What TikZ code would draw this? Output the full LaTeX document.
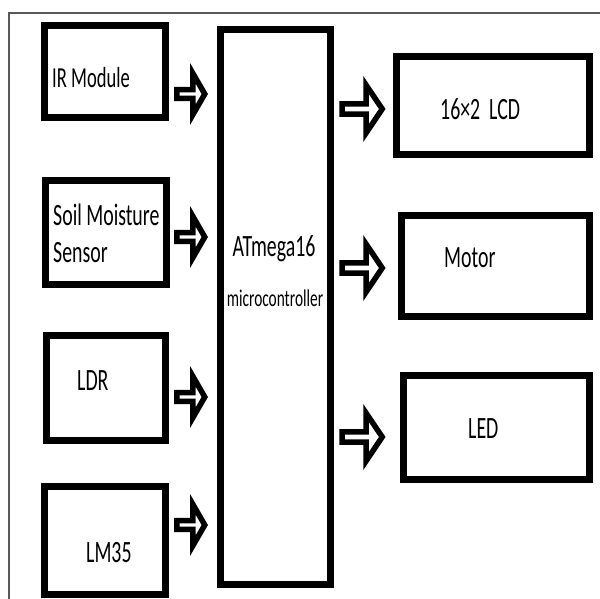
\documentclass[tikz,border=0pt]{standalone}
\usepackage{fontspec}
\setmainfont{Carlito}[FakeStretch=0.64]
\usetikzlibrary{positioning,shapes.arrows}
\tikzset{
  blk/.style={draw=black, fill=white, line width=7pt, inner sep=0pt},
  lbl/.style={inner sep=0pt, font=\fontsize{31}{37}\selectfont, align=left},
  inarw/.style={single arrow, draw=black, fill=white, line width=5.5pt,
    minimum height=28pt, minimum width=41pt, single arrow head extend=10pt,
    single arrow tip angle=120, inner sep=0pt},
  outarw/.style={single arrow, draw=black, fill=white, line width=5.5pt,
    minimum height=40pt, minimum width=48pt, single arrow head extend=10pt,
    single arrow tip angle=112, inner sep=0pt},
  frm/.style={draw=black!65, line width=1.5pt},
}
\begin{document}
\begin{tikzpicture}[x=1pt, y=-1pt]
  \useasboundingbox (0,0) rectangle (600,599);
  \draw[frm] (9,599) -- (9,13) -- (600,13);
  % inputs
  \node[blk, minimum width=121pt, minimum height=92pt] (ir) at (105,71.5) {};
  \node[blk, minimum width=121pt, minimum height=104pt] (soil) at (106,232.5) {};
  \node[blk, minimum width=119pt, minimum height=105pt] (ldr) at (106,388) {};
  \node[blk, minimum width=121pt, minimum height=108pt] (lm) at (105,540.5) {};
  % controller
  \node[blk, minimum width=110pt, minimum height=555pt] (mcu) at (275.5,307) {};
  % outputs
  \node[blk, minimum width=193pt, minimum height=98pt] (lcd) at (493,105.5) {};
  \node[blk, minimum width=188pt, minimum height=101pt] (mot) at (495.5,266) {};
  \node[blk, minimum width=186pt, minimum height=104pt] (led) at (496.5,427.5) {};
  % texts
  \node[lbl, anchor=base west, font=\fontsize{29}{35}\selectfont] (irt) at (52,88) {IR Module};
  \node[lbl, anchor=base west] (soilt) at (53,262) {Soil Moisture\\Sensor};
  \node[lbl, anchor=base west] (ldrt) at (77,390) {LDR};
  \node[lbl, anchor=base west] (lmt) at (86,562) {LM35};
  \node[lbl, anchor=base] (mcut) at (274,256) {ATmega16};
  \node[lbl, anchor=base, font=\fontsize{24}{28}\selectfont] (mcus) at (275,306) {microcontroller};
  \node[lbl, anchor=base west] (lcdt) at (440,120) {16×2\ \ LCD};
  \node[lbl, anchor=base west] (mott) at (444,267) {Motor};
  \node[lbl, anchor=base west] (ledt) at (468,438) {LED};
  % arrows
  \node[inarw] (a1) at (189.5,94) {};
  \node[inarw] (a2) at (189.5,237) {};
  \node[inarw] (a3) at (189.5,397) {};
  \node[inarw] (a4) at (189.5,525) {};
  \node[outarw] (b1) at (360.5,109) {};
  \node[outarw] (b2) at (360.5,268) {};
  \node[outarw] (b3) at (360.5,437) {};
\end{tikzpicture}
\end{document}
